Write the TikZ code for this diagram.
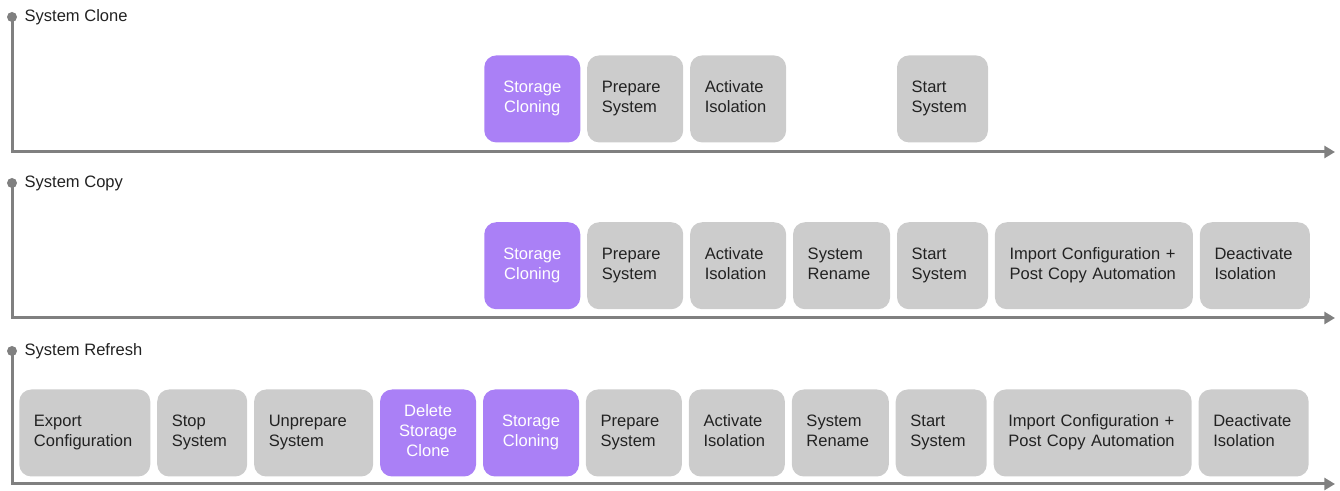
\documentclass[tikz,border=0pt]{standalone}
\usepackage{fontspec}
\setmainfont{Liberation Sans}
\usetikzlibrary{positioning,arrows.meta}
\definecolor{stepgray}{RGB}{204,204,204}
\definecolor{steppurple}{RGB}{170,128,246}
\definecolor{axisgray}{RGB}{128,128,128}
\definecolor{textdark}{RGB}{34,34,34}

\begin{document}
\begin{tikzpicture}[
        x=1pt, y=1pt,
        node distance=4.8pt,
        font=\fontsize{12.4}{15}\selectfont,
        % grey step box
        stepbox/.style={
            rectangle,
            rounded corners=9pt,
            fill=stepgray,
            text=textdark,
            minimum height=65.25pt,
            inner xsep=11pt,
            inner ysep=2pt,
            align=left,
            text width=#1,
            execute at begin node=\strut,
            execute at end node=\strut
        },
        % purple storage step
        clonebox/.style={
            stepbox=#1,
            fill=steppurple,
            text=white,
            align=center
        },
        % time axis of each row
        axis/.style={
            draw=axisgray,
            line width=2.25pt,
            -{Triangle[length=8pt,width=9pt]}
        },
        dot/.style={circle, fill=axisgray, inner sep=0pt, minimum size=7.5pt},
        rowlabel/.style={text=textdark}
    ]
    \useasboundingbox (0,0) rectangle (1005,-368.25);

    % --- System Clone ---
    \node[dot] (dot1) at (9,-12.75) {};
    \node[rowlabel, right=2pt of dot1] (clone) {System Clone};
    \coordinate (end1) at (1001.25,-114);

    \node[clonebox=50pt, anchor=west] (store1) at (363,-74.2) {Storage\\Cloning};
    \node[stepbox=50pt, right=of store1] (prep1) {Prepare\\System};
    \node[stepbox=50pt, right=of prep1] (act1) {Activate\\Isolation};

    % --- System Copy ---
    \node[dot] (dot2) at (9,-137.25) {};
    \node[rowlabel, right=2pt of dot2] (copy) {System Copy};
    \coordinate (end2) at (1001.25,-238.5);

    \node[clonebox=50pt, anchor=west] (store2) at (363,-199.3) {Storage\\Cloning};
    \node[stepbox=50pt, right=of store2] (prep2) {Prepare\\System};
    \node[stepbox=50pt, right=of prep2] (act2) {Activate\\Isolation};
    \node[stepbox=50.75pt, right=of act2] (rename2) {System\\Rename};
    \node[stepbox=46.25pt, right=of rename2] (start2) {Start\\System};
    \node[stepbox=126.5pt, right=of start2] (import2) {Import Configuration +\\Post Copy Automation};
    \node[stepbox=60.5pt, right=of import2] (deact2) {Deactivate\\Isolation};

    % start step of the clone row sits in the copy row's column
    \node[stepbox=46.25pt] (start1) at (start2 |- store1) {Start\\System};

    % --- System Refresh ---
    \node[dot] (dot3) at (9,-263.25) {};
    \node[rowlabel, right=2pt of dot3] (refresh) {System Refresh};
    \coordinate (end3) at (1001.25,-363);

    \node[stepbox=76.25pt, anchor=west] (export3) at (14.25,-324.75) {Export\\Configuration};
    \node[stepbox=45.5pt, right=of export3] (stop3) {Stop\\System};
    \node[stepbox=67.25pt, right=of stop3] (unprep3) {Unprepare\\System};
    \node[clonebox=50pt, right=of unprep3] (delete3) {Delete\\Storage\\Clone};
    \node[clonebox=50pt, right=of delete3] (store3) {Storage\\Cloning};
    \node[stepbox=50pt, right=of store3] (prep3) {Prepare\\System};
    \node[stepbox=50pt, right=of prep3] (act3) {Activate\\Isolation};
    \node[stepbox=50.75pt, right=of act3] (rename3) {System\\Rename};
    \node[stepbox=46.25pt, right=of rename3] (start3) {Start\\System};
    \node[stepbox=126.5pt, right=of start3] (import3) {Import Configuration +\\Post Copy Automation};
    \node[stepbox=60.5pt, right=of import3] (deact3) {Deactivate\\Isolation};

    % --- axes ---
    \draw[axis] (dot1.center) |- (end1);
    \draw[axis] (dot2.center) |- (end2);
    \draw[axis] (dot3.center) |- (end3);

\end{tikzpicture}
\end{document}
